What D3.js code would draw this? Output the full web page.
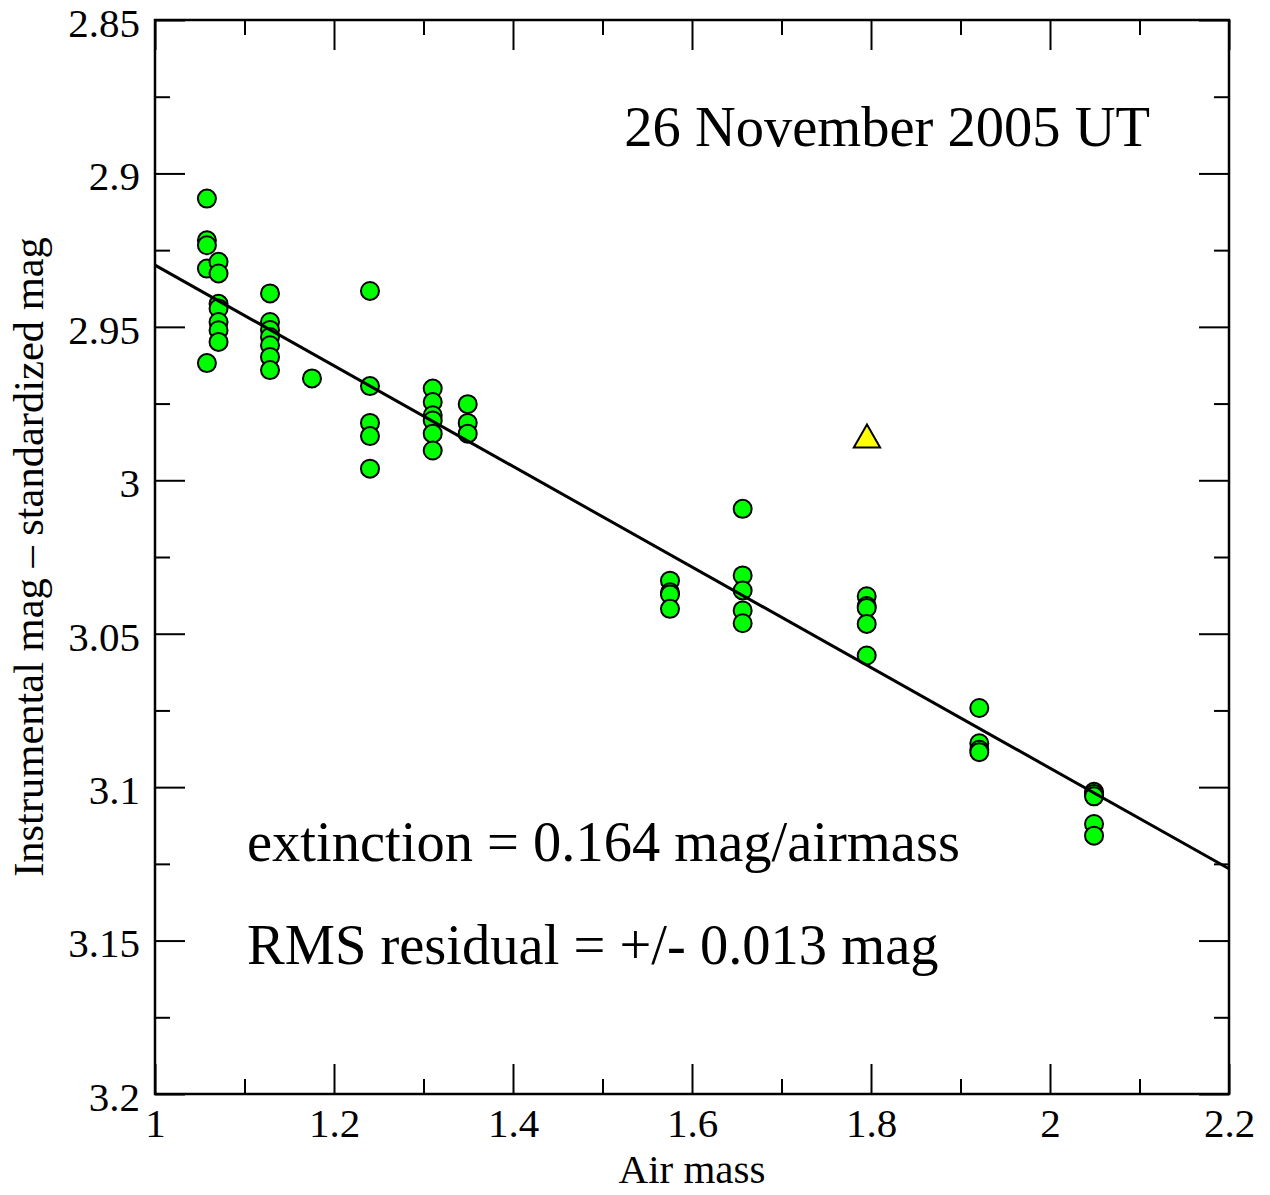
<!DOCTYPE html>
<html>
<head>
<meta charset="utf-8">
<script src="https://cdn.jsdelivr.net/npm/d3@7"></script>
<style>
  body { margin: 0; background: #fff; }
  svg { display: block; font-family: "Liberation Serif", "Times New Roman", serif; }
  .frame { fill: none; stroke: #000; stroke-width: 2.5; }
  .tick line { stroke: #000; stroke-width: 2; }
</style>
</head>
<body>
<svg id="chart" width="1270" height="1195"></svg>
<script>
// air mass / (instrumental - standardized) magnitude, green circles
const airmass = [
  1.058, 1.058, 1.058, 1.058, 1.058,
  1.071, 1.071, 1.071, 1.071, 1.071, 1.071, 1.071,
  1.1285, 1.1285, 1.1285, 1.1285, 1.1285, 1.1285, 1.1285,
  1.1754,
  1.2402, 1.2402, 1.2402, 1.2402, 1.2402,
  1.3103, 1.3103, 1.3103, 1.3103, 1.3103, 1.3103,
  1.3494, 1.3494, 1.3494,
  1.5754, 1.5754, 1.5754, 1.5754,
  1.6566, 1.6566, 1.6566, 1.6566, 1.6566,
  1.7952, 1.7952, 1.7952, 1.7952, 1.7952,
  1.921, 1.921, 1.921, 1.921,
  2.0492, 2.0492, 2.0492, 2.0492, 2.0492
];
const magDiff = [
  2.9082, 2.9218, 2.9234, 2.931, 2.9618,
  2.9288, 2.9326, 2.9425, 2.944, 2.9484, 2.9511, 2.9549,
  2.9391, 2.9484, 2.951, 2.9533, 2.956, 2.9598, 2.9641,
  2.9668,
  2.9383, 2.9693, 2.9813, 2.9856, 2.9962,
  2.9701, 2.9745, 2.9788, 2.9805, 2.9848, 2.9903,
  2.9752, 2.9813, 2.9848,
  3.0327, 3.0365, 3.0372, 3.0419,
  3.0093, 3.031, 3.0359, 3.0424, 3.0466,
  3.0378, 3.041, 3.0416, 3.0468, 3.0571,
  3.0742, 3.0857, 3.0878, 3.0886,
  3.1015, 3.1022, 3.103, 3.112, 3.1158
];
// rejected point (yellow triangle)
const rejAirmass = [1.7955];
const rejMag = [2.9868];
// fitted extinction line
const fitAirmass = [1.0, 2.2];
const fitMag = [2.9299, 3.1266];

const xMajor = [1, 1.2, 1.4, 1.6, 1.8, 2, 2.2];
const xMinor = [1.1, 1.3, 1.5, 1.7, 1.9, 2.1];
const yMajor = [2.85, 2.9, 2.95, 3, 3.05, 3.1, 3.15, 3.2];
const yMinor = [2.875, 2.925, 2.975, 3.025, 3.075, 3.125, 3.175];

const title = "26 November 2005 UT";
const notes = ["extinction = 0.164 mag/airmass", "RMS residual = +/- 0.013 mag"];
const xTitle = "Air mass";
const yTitle = "Instrumental mag \u2013 standardized mag";

const L = 155, R = 1229, T = 20, B = 1094;
const svg = d3.select("#chart");
const x = d3.scaleLinear().domain([1, 2.2]).range([L, R]);
const y = d3.scaleLinear().domain([2.85, 3.2]).range([T, B]);
const fmt = d3.format("");

function ticks(axis, vals, len, labels, pos) {
  const g = svg.append("g").attr("transform", pos)
    .call(axis.tickValues(vals).tickSizeInner(-len).tickSizeOuter(0).tickPadding(labels ? 14 : 0)
      .tickFormat(labels ? d => fmt(+d.toFixed(3)) : ""));
  g.select(".domain").remove();
  g.selectAll("text").attr("font-size", 41).attr("fill", "#000")
    .style("font-family", '"Liberation Serif", serif');
  return g;
}
// bottom / top
ticks(d3.axisBottom(x), xMajor, 30, true, `translate(0,${B})`);
ticks(d3.axisBottom(x), xMinor, 15, false, `translate(0,${B})`);
ticks(d3.axisTop(x), xMajor, 30, false, `translate(0,${T})`);
ticks(d3.axisTop(x), xMinor, 15, false, `translate(0,${T})`);
// left / right
const yl = ticks(d3.axisLeft(y), yMajor, 30, true, `translate(${L},0)`);
yl.selectAll("text").attr("dy", "0.4em").attr("x", -15);
ticks(d3.axisLeft(y), yMinor, 15, false, `translate(${L},0)`);
ticks(d3.axisRight(y), yMajor, 30, false, `translate(${R},0)`);
ticks(d3.axisRight(y), yMinor, 15, false, `translate(${R},0)`);

svg.append("rect").attr("class", "frame")
  .attr("x", L).attr("y", T).attr("width", R - L).attr("height", B - T);

// data
svg.append("g").selectAll("circle").data(d3.range(airmass.length)).join("circle")
  .attr("cx", i => x(airmass[i])).attr("cy", i => y(magDiff[i])).attr("r", 9)
  .attr("fill", "#00ff00").attr("stroke", "#000").attr("stroke-width", 2);

svg.append("g").selectAll("path").data(d3.range(rejAirmass.length)).join("path")
  .attr("d", d3.symbol(d3.symbolTriangle, 300))
  .attr("transform", i => `translate(${x(rejAirmass[i])},${y(rejMag[i])})`)
  .attr("fill", "#ffff00").attr("stroke", "#000").attr("stroke-width", 2);

svg.append("path").datum(d3.range(fitAirmass.length))
  .attr("d", d3.line().x(i => x(fitAirmass[i])).y(i => y(fitMag[i])))
  .attr("fill", "none").attr("stroke", "#000").attr("stroke-width", 3);

// text
svg.append("text").attr("x", 1150).attr("y", 146).attr("text-anchor", "end")
  .attr("font-size", 56.5).text(title);
svg.selectAll(".note").data(notes).join("text").attr("class", "note")
  .attr("x", 247).attr("y", (d, i) => 861 + i * 103).attr("font-size", 56.5).text(d => d);
svg.append("text").attr("x", (L + R) / 2).attr("y", 1183).attr("text-anchor", "middle")
  .attr("font-size", 41).text(xTitle);
svg.append("text").attr("transform", `translate(43,${(T + B) / 2}) rotate(-90)`)
  .attr("text-anchor", "middle").attr("font-size", 42.5).text(yTitle);
</script>
</body>
</html>
